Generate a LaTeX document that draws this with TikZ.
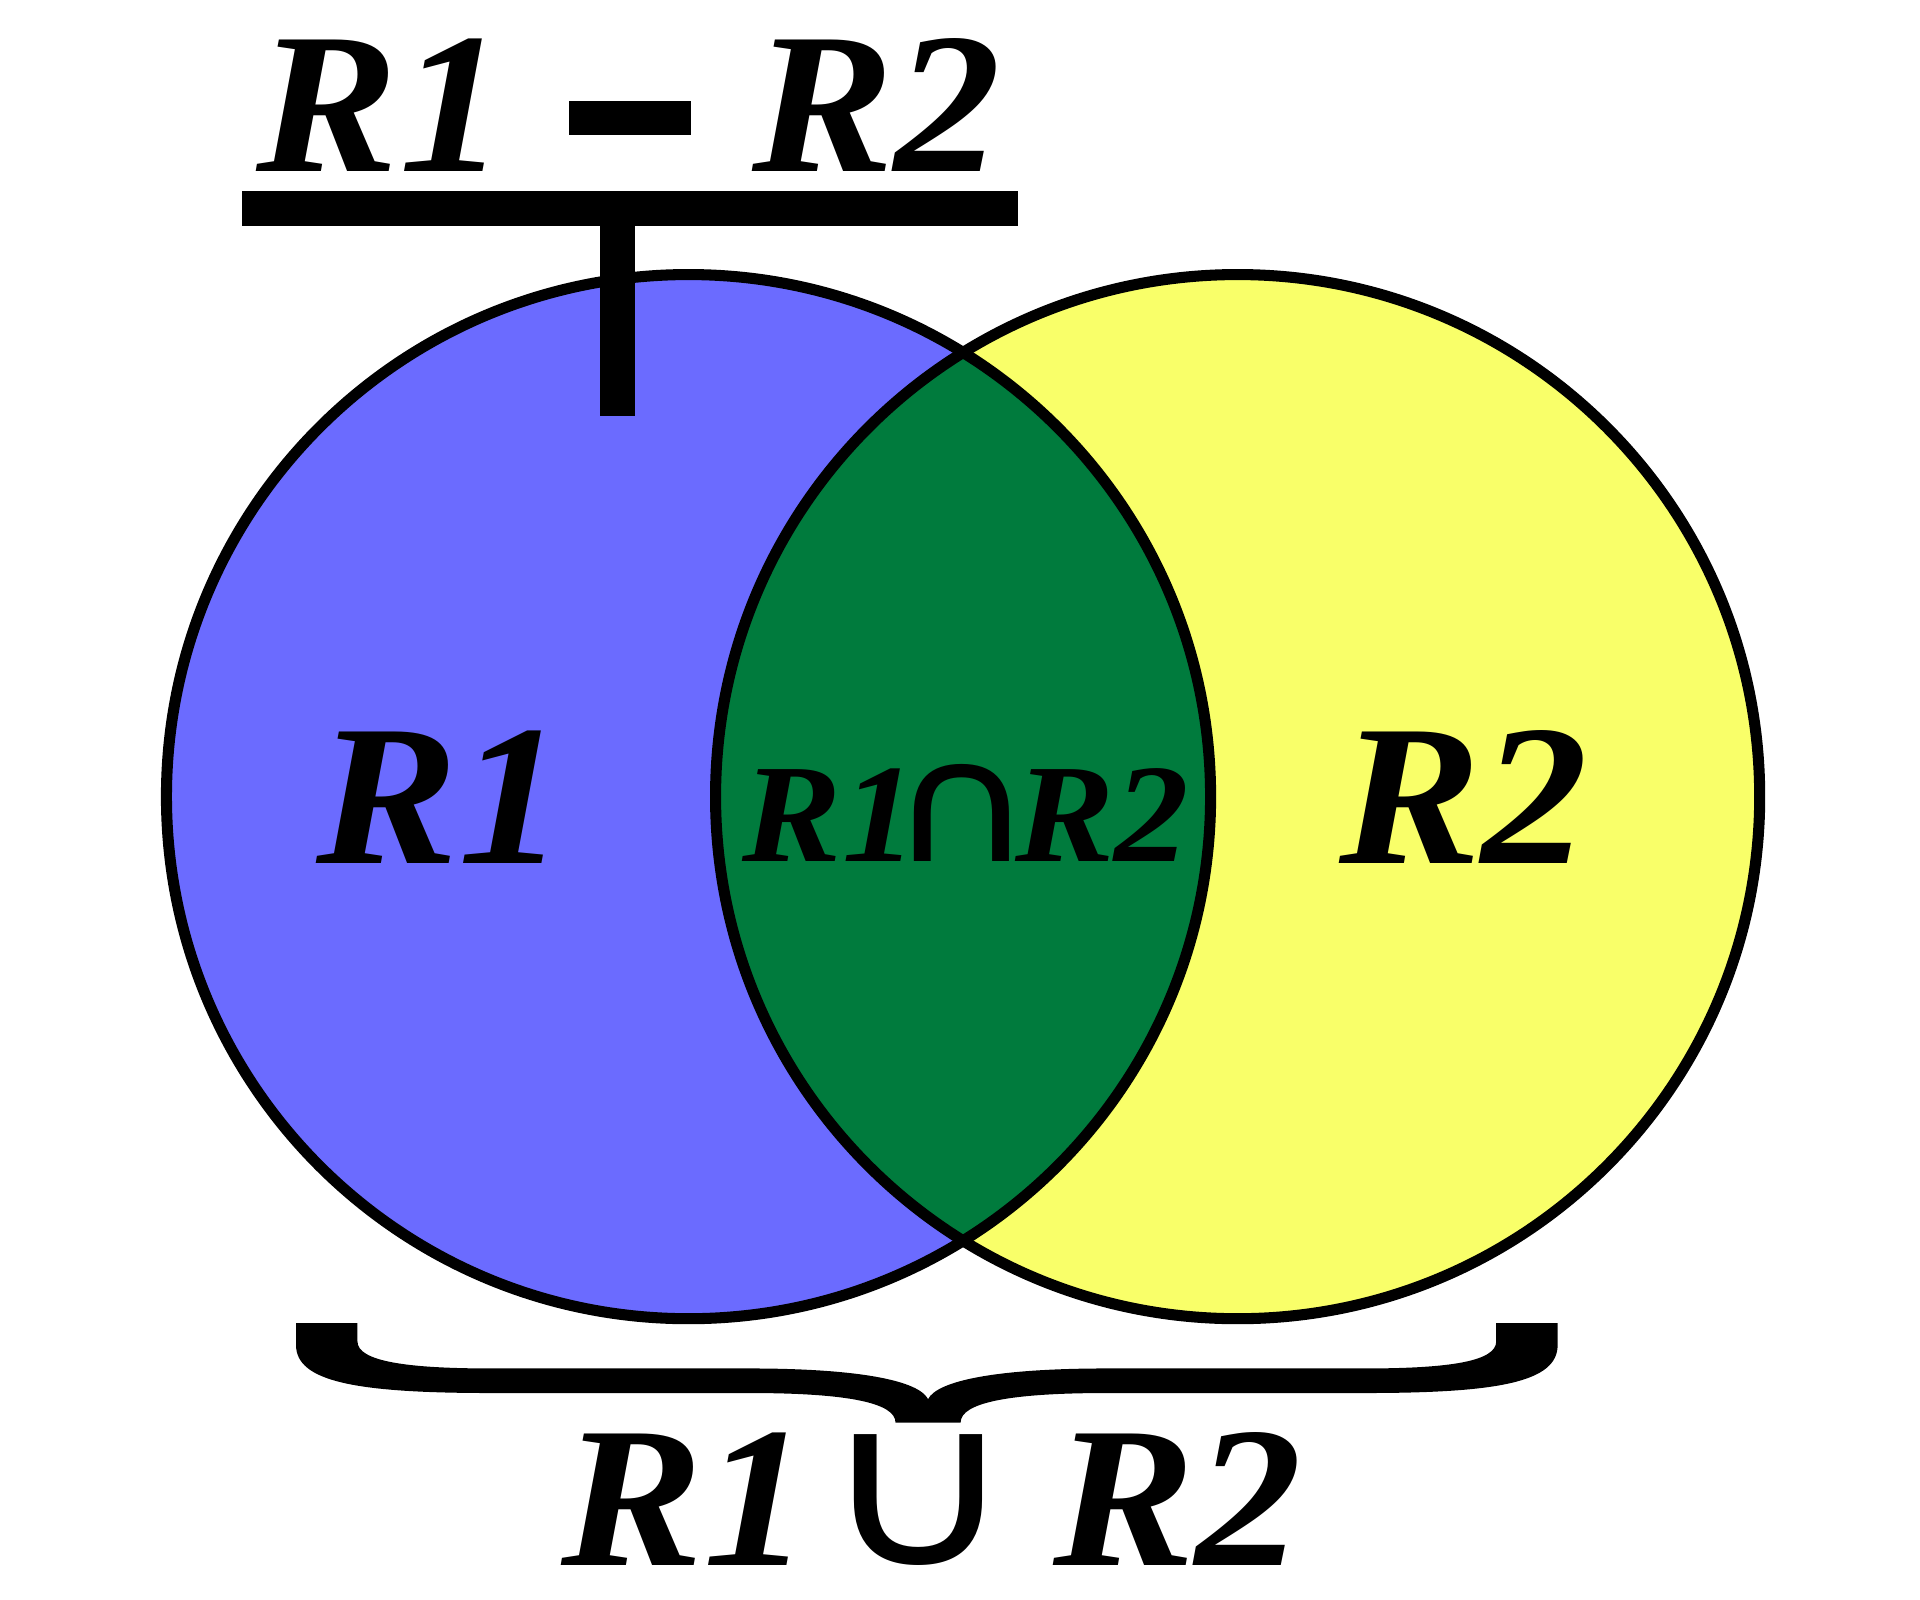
\documentclass[tikz,border=0pt]{standalone}
\usepackage{fontspec}
\setmainfont{Liberation Serif}[FakeStretch=1.06]
\newfontfamily\symfont{DejaVu Sans}
\definecolor{rblue}{HTML}{6B6BFF}
\definecolor{rgreen}{HTML}{007B3D}
\definecolor{ryellow}{HTML}{F9FF69}
\newcommand{\opsym}[1]{{\symfont\mdseries\upshape #1}}
\begin{document}
\begin{tikzpicture}[x=0.01cm,y=-0.01cm,
  outline/.style={draw=black,line width=0.09cm},
  biglabel/.style={font=\bfseries\itshape\fontsize{46.5}{50}\selectfont,inner sep=0pt,anchor=base west},
  midlabel/.style={font=\bfseries\itshape\fontsize{32.5}{36}\selectfont,inner sep=0pt,anchor=base west}]
\useasboundingbox (0,0) rectangle (1563,1302.5);
\coordinate (c1) at (560.5,648.5);
\coordinate (c2) at (1007.5,648.5);
% fills
\fill[rblue] (c1) circle[radius=425];
\fill[ryellow] (c2) circle[radius=425];
\begin{scope}
  \clip (c1) circle[radius=425];
  \fill[rgreen] (c2) circle[radius=425];
\end{scope}
\draw[outline] (c1) circle[radius=425];
\draw[outline] (c2) circle[radius=425];
% T marker
\fill (197,155.5) rectangle (829,184);
\fill (488.5,184) rectangle (517,339);
% brace
\fill (241,1077) -- (291,1077) -- (291,1092)
  .. controls (291,1108) and (330,1114) .. (400,1114)
  -- (610,1114)
  .. controls (700,1114) and (748,1124) .. (755.5,1139)
  .. controls (763,1124) and (811,1114) .. (901,1114)
  -- (1111,1114)
  .. controls (1181,1114) and (1218,1108) .. (1218,1092)
  -- (1218,1077) -- (1268,1077) -- (1268,1095)
  .. controls (1268,1125) and (1220,1134) .. (1111,1134)
  -- (901,1134)
  .. controls (821,1134) and (782,1142) .. (782,1158)
  -- (729,1158)
  .. controls (729,1142) and (690,1134) .. (610,1134)
  -- (400,1134)
  .. controls (291,1134) and (241,1125) .. (241,1095) -- cycle;
% labels
\node[biglabel] (diff) at (208.5,140) {\makebox[2.535cm][l]{R1}\rule[0.30cm]{1.00cm}{0.28cm}\hspace{0.50cm}R2};
\node[biglabel] (r1) at (257,703) {R1};
\node[biglabel] (r2) at (1090,703) {R2};
\node[midlabel] (inter) at (604,701) {\makebox[1.186cm][l]{R1}\makebox[1.034cm][l]{\resizebox{1.194cm}{0.79cm}{\opsym{∩}}}R2};
\node[biglabel] (union) at (456,1274.5) {\makebox[2.106cm][l]{R1}\makebox[1.90cm][l]{\resizebox{1.61cm}{1.065cm}{\opsym{∪}}}R2};
\end{tikzpicture}
\end{document}
